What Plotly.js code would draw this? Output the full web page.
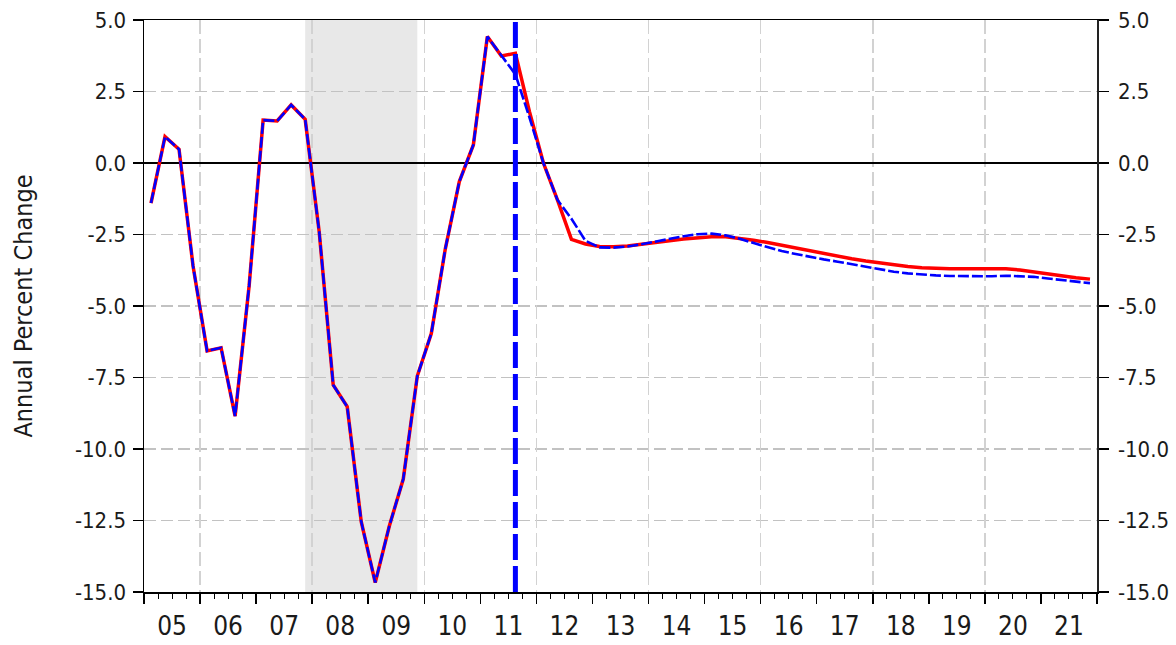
<!DOCTYPE html>
<html>
<head>
<meta charset="utf-8">
<script src="https://cdn.plot.ly/plotly-3.0.1.min.js"></script>
<style>
  html, body { margin: 0; padding: 0; background: #ffffff; }
  #chart { width: 1176px; height: 645px; }
</style>
</head>
<body>
<div id="chart"></div>
<script>
// ---------------- Data ----------------
const firstYear = 2005;
const yearLabels = ['05','06','07','08','09','10','11','12','13','14','15','16','17','18','19','20','21'];

// Quarterly series, Q1 2005 .. Q4 2021
const seriesRed = [
  -1.40, 0.92, 0.48, -3.60,
  -6.57, -6.46, -8.85, -4.30,
  1.50, 1.47, 2.03, 1.53,
  -2.40, -7.76, -8.52, -12.54,
  -14.67, -12.70, -11.05, -7.45,
  -5.96, -3.00, -0.65, 0.63,
  4.42, 3.74, 3.84, 1.80,
  0.00, -1.29, -2.67, -2.83,
  -2.92, -2.93, -2.90, -2.85,
  -2.78, -2.72, -2.66, -2.61,
  -2.58, -2.58, -2.63, -2.70,
  -2.78, -2.88, -2.98, -3.08,
  -3.18, -3.27, -3.35, -3.43,
  -3.50, -3.56, -3.62, -3.66,
  -3.69, -3.70, -3.70, -3.70,
  -3.70, -3.70, -3.74, -3.81,
  -3.89, -3.96, -4.01, -4.06
];
const seriesBlue = [
  -1.40, 0.92, 0.48, -3.60,
  -6.57, -6.46, -8.85, -4.30,
  1.50, 1.47, 2.03, 1.53,
  -2.40, -7.76, -8.52, -12.54,
  -14.67, -12.70, -11.05, -7.45,
  -5.96, -3.00, -0.65, 0.63,
  4.42, 3.74, 3.10, 1.60,
  0.00, -1.29, -1.95, -2.72,
  -2.95, -2.96, -2.92, -2.84,
  -2.74, -2.64, -2.56, -2.49,
  -2.47, -2.53, -2.65, -2.80,
  -2.95, -3.08, -3.18, -3.28,
  -3.37, -3.45, -3.54, -3.63,
  -3.72, -3.80, -3.86, -3.90,
  -3.93, -3.95, -3.96, -3.97,
  -3.96, -3.94, -3.95, -3.98,
  -4.04, -4.10, -4.15, -4.20
];

const yTickVals   = [5, 2.5, 0, -2.5, -5, -7.5, -10, -12.5, -15];
const yTickLabels = ['5.0','2.5','0.0','-2.5','-5.0','-7.5','-10.0','-12.5','-15.0'];

const recessionStart = 2007.875;   // shaded period (Q4 2007 .. Q4 2009)
const recessionEnd   = 2009.875;
const forecastStart  = 2011.625;   // vertical marker (Q3 2011)

// ---------------- Build ----------------
const lastYear = firstYear + yearLabels.length;          // 2022
const qx = seriesRed.map((_, i) => firstYear + (i + 0.5) / 4);
const labelPos = yearLabels.map((_, i) => firstYear + i + 0.5);

const FONT = '"DejaVu Sans Condensed", "Liberation Sans Narrow", sans-serif';

const traces = [
  { x: qx, y: seriesRed, type: 'scatter', mode: 'lines',
    line: { color: '#ff0000', width: 3.5 }, showlegend: false, hoverinfo: 'skip' },
  { x: qx, y: seriesBlue, type: 'scatter', mode: 'lines',
    line: { color: '#0000ff', width: 2.6, dash: '11px,3px' }, showlegend: false, hoverinfo: 'skip' },
  { x: [], y: [], xaxis: 'x2', yaxis: 'y', showlegend: false },
  { x: [], y: [], xaxis: 'x3', yaxis: 'y', showlegend: false },
  { x: [], y: [], xaxis: 'x', yaxis: 'y2', showlegend: false }
];

const xr = [firstYear, lastYear];
const layout = {
  width: 1176, height: 645,
  margin: { l: 144, r: 79, t: 20, b: 53 },
  paper_bgcolor: '#ffffff', plot_bgcolor: '#ffffff',
  font: { family: FONT, color: '#1a1a1a' },
  showlegend: false,
  xaxis: {
    range: xr, tickmode: 'array', tickvals: labelPos, ticktext: yearLabels,
    ticks: '', showgrid: false, zeroline: false,
    showline: true, linecolor: '#000000', linewidth: 1.5, mirror: true,
    tickfont: { family: FONT, size: 26, color: '#1a1a1a' },
    ticklabelstandoff: 10
  },
  xaxis2: {
    overlaying: 'x', anchor: 'y', range: xr,
    tickmode: 'linear', tick0: firstYear, dtick: 1,
    ticks: 'outside', ticklen: 11, tickwidth: 1.5, tickcolor: '#000000',
    showticklabels: false, showgrid: false, zeroline: false, showline: false,
    minor: { tickmode: 'linear', tick0: firstYear, dtick: 0.25, ticks: 'outside',
             ticklen: 6, tickwidth: 1, tickcolor: '#000000', showgrid: false }
  },
  xaxis3: {
    overlaying: 'x', anchor: 'y', range: xr,
    tickmode: 'linear', tick0: firstYear + 1, dtick: 2,
    ticks: '', showticklabels: false, zeroline: false, showline: false,
    showgrid: true, gridcolor: '#d2d2d2', gridwidth: 1.5, griddash: '14px,5px'
  },
  yaxis: {
    range: [-15, 5], tickmode: 'array', tickvals: yTickVals, ticktext: yTickLabels,
    ticks: 'outside', ticklen: 10, tickwidth: 1.5, tickcolor: '#000000',
    showline: true, linecolor: '#000000', linewidth: 1.5,
    showgrid: true, gridcolor: '#c2c2c2', gridwidth: 1.5, griddash: '12px,5px',
    zeroline: true, zerolinecolor: '#000000', zerolinewidth: 1.5,
    tickfont: { family: FONT, size: 22, color: '#1a1a1a' },
    ticklabelstandoff: 2,
    title: { text: 'Annual Percent Change', font: { family: FONT, size: 25, color: '#1a1a1a' }, standoff: 35 }
  },
  yaxis2: {
    overlaying: 'y', side: 'right', anchor: 'x', range: [-15, 5],
    tickmode: 'array', tickvals: yTickVals, ticktext: yTickLabels,
    ticks: 'outside', ticklen: 10, tickwidth: 1.5, tickcolor: '#000000',
    showline: true, linecolor: '#222222', linewidth: 1.5,
    showgrid: false, zeroline: false,
    tickfont: { family: FONT, size: 22, color: '#1a1a1a' },
    ticklabelstandoff: 5
  },
  shapes: [
    { type: 'rect', xref: 'x', yref: 'paper', x0: recessionStart, x1: recessionEnd, y0: 0, y1: 1,
      fillcolor: '#e8e8e8', line: { width: 0 }, layer: 'below' },
    { type: 'line', xref: 'x', yref: 'paper', x0: forecastStart, x1: forecastStart, y0: 0, y1: 1,
      line: { color: '#0000ff', width: 5, dash: '26px,6px' }, layer: 'above' }
  ]
};

Plotly.newPlot('chart', traces, layout, { staticPlot: true, displayModeBar: false });
</script>
</body>
</html>
